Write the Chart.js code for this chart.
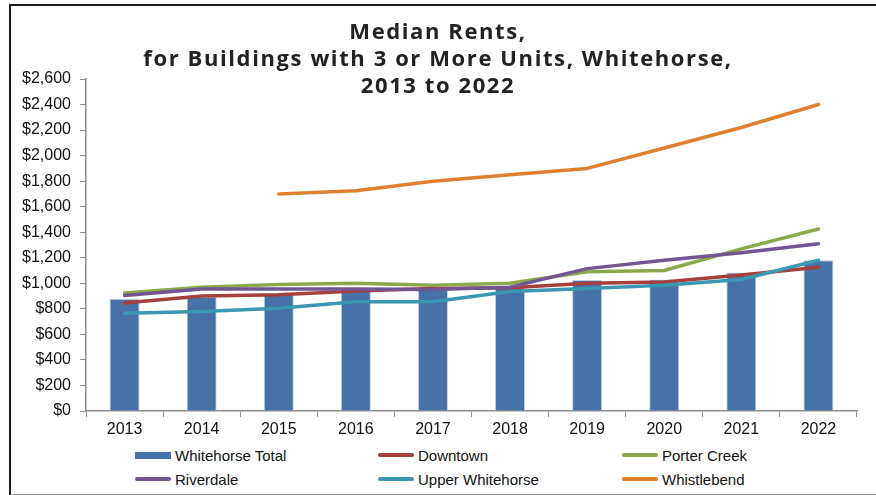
<!DOCTYPE html>
<html>
<head>
<meta charset="utf-8">
<script src="https://cdn.jsdelivr.net/npm/chart.js@4.4.1/dist/chart.umd.min.js"></script>
<style>
  html, body { margin: 0; padding: 0; background: #fff; }
  .frame {
    position: absolute; left: 9px; top: 4px; width: 900px; height: 488px;
    border-left: 2px solid #1a1a1a; border-top: 2px solid #1a1a1a; border-bottom: 1px solid #9a9a9a;
  }
  .wrap { position: relative; width: 876px; height: 495px; overflow: hidden; }
  #chart { position: absolute; left: 0; top: 0; }
  .title {
    position: absolute; left: 0; width: 876px; top: 17px; text-align: center;
    font-family: "Open Sans", sans-serif; font-weight: 700; font-size: 22px; line-height: 27px;
    letter-spacing: 1.6px; color: #222;
  }
  .legend { position: absolute; left: 0; top: 0; font-family: "Liberation Sans", Arial, sans-serif; font-size: 15px; color: #111; }
  .item { position: absolute; display: flex; align-items: center; white-space: nowrap; }
  .mark { width: 36px; margin-right: 4px; }
</style>
</head>
<body>
<div class="wrap">
  <div class="frame"></div>
  <canvas id="chart" width="876" height="445"></canvas>
  <div class="title">Median Rents,<br>for Buildings with 3 or More Units, Whitehorse,<br>2013 to 2022</div>
  <div class="legend" id="legend"></div>
</div>
<script>
const years = ['2013', '2014', '2015', '2016', '2017', '2018', '2019', '2020', '2021', '2022'];

const whitehorseTotal = [880, 895, 910, 950, 950, 970, 1025, 1030, 1085, 1180];
const downtown        = [845, 900, 910, 940, 960, 965, 1000, 1010, 1065, 1125];
const porterCreek     = [925, 970, 990, 1000, 985, 1000, 1090, 1100, 1270, 1425];
const riverdale       = [905, 955, 955, 955, 952, 970, 1115, 1180, 1240, 1310];
const upperWhitehorse = [765, 780, 805, 855, 855, 935, 960, 985, 1030, 1180];
const whistlebend     = [null, null, 1700, 1725, 1800, 1850, 1900, 2060, 2220, 2400];

const yTicksMax = 2600;
const yTickStep = 200;

const lineSeries = [
  { label: 'Downtown', data: downtown, color: '#A5403C' },
  { label: 'Porter Creek', data: porterCreek, color: '#8BA84A' },
  { label: 'Riverdale', data: riverdale, color: '#725694' },
  { label: 'Upper Whitehorse', data: upperWhitehorse, color: '#3C98B2' },
  { label: 'Whistlebend', data: whistlebend, color: '#E0802F' }
];

const datasets = [{
  type: 'bar',
  label: 'Whitehorse Total',
  data: whitehorseTotal,
  backgroundColor: '#4672A8',
  borderColor: '#c5d2e4',
  borderWidth: 1,
  categoryPercentage: 0.39,
  barPercentage: 1,
  order: 10
}];
lineSeries.forEach((s, i) => {
  datasets.push({
    type: 'line',
    label: s.label,
    data: s.data,
    borderColor: s.color,
    backgroundColor: s.color,
    borderWidth: 3.5,
    borderCapStyle: 'round',
    borderJoinStyle: 'round',
    pointRadius: 0,
    tension: 0,
    fill: false,
    order: 9 - i
  });
});

const axisGray = '#8c8c8c';
const tickFont = { family: '"Liberation Sans", Arial, sans-serif', size: 16 };

new Chart(document.getElementById('chart'), {
  data: { labels: years, datasets },
  options: {
    responsive: false,
    animation: false,
    layout: { padding: { left: 0, right: 19, top: 79, bottom: 0 } },
    plugins: { legend: { display: false }, title: { display: false }, tooltip: { enabled: false } },
    scales: {
      x: {
        offset: true,
        grid: { offset: true, drawOnChartArea: false, drawTicks: true, tickLength: 6, color: axisGray },
        border: { color: axisGray, width: 1.5 },
        ticks: { font: tickFont, color: '#111', padding: 3, maxRotation: 0 },
        afterFit: (s) => { s.height = 34; }
      },
      y: {
        min: 0,
        max: yTicksMax,
        grid: { drawOnChartArea: false, drawTicks: true, tickLength: 6, color: axisGray },
        border: { color: axisGray, width: 1.5 },
        ticks: {
          stepSize: yTickStep,
          font: tickFont,
          color: '#111',
          padding: 9,
          callback: (v) => '$' + v.toLocaleString('en-US')
        },
        afterFit: (s) => { s.width = 86; }
      }
    }
  }
});

// legend laid out in three columns like the original
const legend = document.getElementById('legend');
const legendItems = [{ label: 'Whitehorse Total', color: '#4672A8', bar: true }]
  .concat(lineSeries.map(s => ({ label: s.label, color: s.color, bar: false })));
const colX = [135, 378, 622];
const rowY = [455, 479];
legendItems.forEach((it, i) => {
  const el = document.createElement('div');
  el.className = 'item';
  el.style.left = colX[i % 3] + 'px';
  el.style.top = (rowY[Math.floor(i / 3)] - 9) + 'px';
  el.style.height = '18px';
  const m = document.createElement('span');
  m.className = 'mark';
  m.style.background = it.color;
  m.style.height = it.bar ? '7px' : '4px';
  m.style.borderRadius = it.bar ? '0' : '2px';
  el.appendChild(m);
  const t = document.createElement('span');
  t.textContent = it.label;
  el.appendChild(t);
  legend.appendChild(el);
});
</script>
</body>
</html>
